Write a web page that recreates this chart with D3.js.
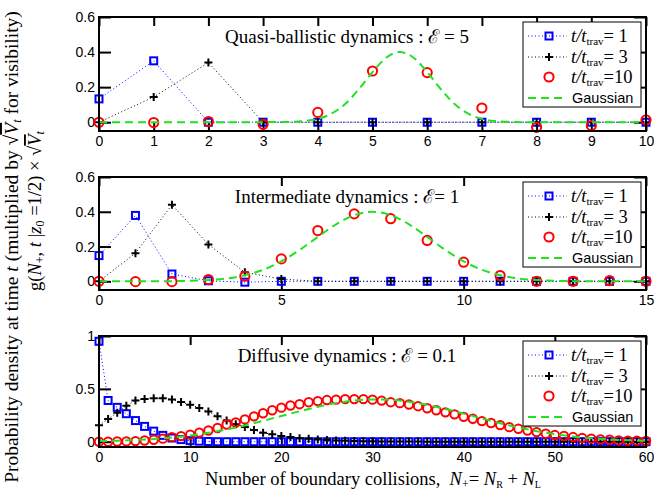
<!DOCTYPE html>
<html><head><meta charset="utf-8">
<script src="https://cdn.jsdelivr.net/npm/d3@7"></script>
<style>body{margin:0;background:#fff}svg{display:block}</style>
</head><body>
<svg id="c" width="654" height="491"></svg>
<script>
// ---------- DATA ----------
// Panel 1 : Quasi-ballistic, E = 5
const p1N = [0,1,2,3,4,5,6,7,8,9,10];
const p1T1 = [0.133,0.35,0.0,0.0,0.0,0.0,0.0,0.0,0.0,0.0,0.0];
const p1T3 = [0.0,0.144,0.34,0.0,0.0,0.0,0.0,0.0,0.0,0.0,0.0];
const p1T10 = [0.0,-0.002,0.004,-0.012,0.056,0.292,0.283,0.081,-0.029,-0.019,0.013];
const p1GaussX = [0,1,2,3,3.5,3.75,4,4.25,4.5,4.75,5,5.25,5.5,5.75,6,6.25,6.5,6.75,7,7.25,7.5,8,9,10];
const p1GaussY = [0,0,0,0.0005,0.002,0.0065,0.019,0.049,0.104,0.188,0.286,0.368,0.4,0.368,0.286,0.188,0.104,0.049,0.019,0.0065,0.002,0,0,0];

// Panel 2 : Intermediate, E = 1
const p2N = [0,1,2,3,4,5,6,7,8,9,10,11,12,13,14,15];
const p2T1 = [0.148,0.379,0.042,0.003,-0.005,0,0,0,0,0,0,0,0,0,0,0];
const p2T3 = [0.0,0.162,0.44,0.212,0.052,0.013,0,0,0,0,0,0,0,0,0,0];
const p2T10 = [0.0,-0.002,-0.002,0.01,0.029,0.129,0.292,0.388,0.36,0.235,0.11,0.033,0.0,0.0,0.004,0.0];
const p2GaussX = [0,1,2,2.5,3,3.5,4,4.5,5,5.5,6,6.5,7,7.5,8,8.5,9,9.5,10,10.5,11,11.5,12,12.5,13,14,15];
const p2GaussY = [0,0.0001,0.001,0.003,0.007,0.016,0.035,0.066,0.115,0.18,0.255,0.328,0.38,0.4,0.38,0.328,0.255,0.18,0.115,0.066,0.035,0.016,0.007,0.003,0.001,0,0];

// Panel 3 : Diffusive, E = 0.1
const p3N = d3.range(0, 61);
const p3T1 = [0.95,0.39,0.325,0.265,0.20,0.145,0.10,0.06,0.035,0.02,0.01,0.005,0.002,0,0,0,0,0,0,0,0,0,0,0,0,0,0,0,0,0,0,0,0,0,0,0,0,0,0,0,0,0,0,0,0,0,0,0,0,0,0,0,0,0,0,0,0,0,0,0,0];
const p3T3 = [0.155,0.215,0.275,0.34,0.39,0.405,0.41,0.41,0.40,0.375,0.35,0.32,0.285,0.24,0.20,0.165,0.14,0.11,0.085,0.07,0.055,0.045,0.032,0.028,0.022,0.016,0.012,0.009,0.007,0.005,0.004,0.003,0.002,0.002,0.001,0.001,0,0,0,0,0,0,0,0,0,0,0,0,0,0,0,0,0,0,0,0,0,0,0,0,0];
const p3T10 = [0,0,0.002,0.003,0.006,0.011,0.019,0.029,0.043,0.053,0.067,0.086,0.106,0.13,0.163,0.182,0.211,0.24,0.269,0.298,0.322,0.343,0.355,0.374,0.384,0.394,0.398,0.403,0.403,0.403,0.398,0.389,0.374,0.365,0.352,0.336,0.317,0.298,0.278,0.259,0.235,0.217,0.195,0.177,0.157,0.138,0.123,0.106,0.091,0.076,0.063,0.054,0.044,0.035,0.029,0.022,0.019,0.012,0.01,0.01,0.007];
const p3GaussX = [0,2,4,6,8,10,12,14,16,18,20,22,24,26,28,30,32,34,36,38,40,42,44,46,48,50,52,54,56,58,60];
const p3GaussY = [0.006,0.010,0.017,0.026,0.040,0.059,0.085,0.116,0.154,0.197,0.243,0.288,0.330,0.365,0.389,0.400,0.396,0.378,0.349,0.310,0.266,0.220,0.175,0.135,0.100,0.071,0.049,0.033,0.021,0.013,0.008];

const titles = ["Quasi-ballistic dynamics : \u2130 = 5", "Intermediate dynamics : \u2130= 1", "Diffusive dynamics : \u2130 = 0.1"];
const legendValues = ["= 1", "= 3", "=10"];
const xTicks1 = [0,1,2,3,4,5,6,7,8,9,10];
const xTicks2 = [0,5,10,15];
const xTicks3 = [0,10,20,30,40,50,60];
const yTicks12 = [0,0.2,0.4,0.6];
const yTicks3 = [0,0.5,1];

// ---------- DRAW ----------
const svg = d3.select("#c");
const SERIF = "'Liberation Serif','Times New Roman',serif";
const SANS = "'Liberation Sans',Arial,sans-serif";
const BLUE = "#0000ff", RED = "#ff0000", GREEN = "#22e022";
const L = 99, R = 646;

const panels = [
  {n:p1N, t1:p1T1, t3:p1T3, t10:p1T10, gx:p1GaussX, gy:p1GaussY, xd:[0,10], yd:[-0.05,0.6], top:17, bottom:131, xt:xTicks1, yt:yTicks12, title:titles[0], r:4.6},
  {n:p2N, t1:p2T1, t3:p2T3, t10:p2T10, gx:p2GaussX, gy:p2GaussY, xd:[0,15], yd:[-0.05,0.6], top:177, bottom:290, xt:xTicks2, yt:yTicks12, title:titles[1], r:4.6},
  {n:p3N, t1:p3T1, t3:p3T3, t10:p3T10, gx:p3GaussX, gy:p3GaussY, xd:[0,60], yd:[-0.05,1], top:336, bottom:447, xt:xTicks3, yt:yTicks3, title:titles[2], r:4.2}
];

function squareMark(g, cx, cy){
  g.append("rect").attr("x",cx-3.5).attr("y",cy-3.5).attr("width",7).attr("height",7)
   .attr("fill","none").attr("stroke",BLUE).attr("stroke-width",2);
}
function plusMark(g, cx, cy){
  g.append("path").attr("d",`M${cx-4},${cy}H${cx+4}M${cx},${cy-4}V${cy+4}`)
   .attr("stroke","#000").attr("stroke-width",2).attr("fill","none");
}
function circleMark(g, cx, cy, r){
  g.append("circle").attr("cx",cx).attr("cy",cy).attr("r",r)
   .attr("fill","none").attr("stroke",RED).attr("stroke-width",2);
}

panels.forEach(p => {
  const x = d3.scaleLinear().domain(p.xd).range([L,R]);
  const y = d3.scaleLinear().domain(p.yd).range([p.bottom,p.top]);
  const g = svg.append("g");
  const fmt = d => String(d);

  const ab = g.append("g").attr("transform",`translate(0,${p.bottom})`)
    .call(d3.axisBottom(x).tickValues(p.xt).tickSizeInner(-9).tickSizeOuter(0).tickPadding(5).tickFormat(fmt));
  const at = g.append("g").attr("transform",`translate(0,${p.top})`)
    .call(d3.axisTop(x).tickValues(p.xt).tickSizeInner(-9).tickSizeOuter(0).tickFormat(""));
  const al = g.append("g").attr("transform",`translate(${L},0)`)
    .call(d3.axisLeft(y).tickValues(p.yt).tickSizeInner(-12).tickSizeOuter(0).tickPadding(4).tickFormat(fmt));
  const ar = g.append("g").attr("transform",`translate(${R},0)`)
    .call(d3.axisRight(y).tickValues(p.yt).tickSizeInner(-12).tickSizeOuter(0).tickFormat(""));
  [ab,at,al,ar].forEach(a => {
    a.select(".domain").remove();
    a.selectAll("line").attr("stroke","#000").attr("stroke-width",2);
    a.selectAll("text").attr("font-family",SANS).attr("font-size",14).attr("fill","#000");
  });

  g.append("text").attr("x",347).attr("y",p.top+26).attr("text-anchor","middle")
    .attr("font-family",SERIF).attr("font-size",19).text(p.title);

  const line = d3.line().x((d,i)=>x(p.n[i])).y(d=>y(d));
  g.append("path").datum(p.t1).attr("d",line).attr("fill","none").attr("stroke",BLUE)
    .attr("stroke-width",1).attr("stroke-dasharray","1,2.5");
  p.t1.forEach((v,i)=>squareMark(g,x(p.n[i]),y(v)));
  g.append("path").datum(p.t3).attr("d",line).attr("fill","none").attr("stroke","#000")
    .attr("stroke-width",1).attr("stroke-dasharray","1,2.5");
  p.t3.forEach((v,i)=>plusMark(g,x(p.n[i]),y(v)));
  p.t10.forEach((v,i)=>circleMark(g,x(p.n[i]),y(v),p.r));
  const gl = d3.line().x((d,i)=>x(p.gx[i])).y(d=>y(d)).curve(d3.curveMonotoneX);
  g.append("path").datum(p.gy).attr("d",gl).attr("fill","none").attr("stroke",GREEN)
    .attr("stroke-width",2).attr("stroke-dasharray","8,5");

  g.append("rect").attr("x",L).attr("y",p.top).attr("width",R-L).attr("height",p.bottom-p.top)
    .attr("fill","none").attr("stroke","#000").attr("stroke-width",2);

  // legend
  const lg = g.append("g").attr("transform",`translate(523,${p.top+5})`);
  lg.append("rect").attr("x",0).attr("y",0).attr("width",118).attr("height",85)
    .attr("fill","#fff").attr("stroke","#000").attr("stroke-width",1);
  const rows = [14,35,55,76];
  lg.append("line").attr("x1",5).attr("x2",44).attr("y1",rows[0]).attr("y2",rows[0])
    .attr("stroke",BLUE).attr("stroke-width",1).attr("stroke-dasharray","1,2.5");
  squareMark(lg,26,rows[0]);
  lg.append("line").attr("x1",5).attr("x2",44).attr("y1",rows[1]).attr("y2",rows[1])
    .attr("stroke","#000").attr("stroke-width",1).attr("stroke-dasharray","1,2.5");
  plusMark(lg,26,rows[1]);
  circleMark(lg,26,rows[2],4.6);
  lg.append("line").attr("x1",5).attr("x2",44).attr("y1",rows[3]).attr("y2",rows[3])
    .attr("stroke",GREEN).attr("stroke-width",2).attr("stroke-dasharray","8,5");
  legendValues.forEach((v,k)=>{
    const t = lg.append("text").attr("x",48).attr("y",rows[k]+6)
      .attr("font-family",SERIF).attr("font-size",18.5);
    t.append("tspan").attr("font-style","italic").text("t/t");
    t.append("tspan").attr("font-size",11).attr("dy",3).text("trav");
    t.append("tspan").attr("dy",-3).text(v);
  });
  lg.append("text").attr("x",49).attr("y",rows[3]+5).attr("font-family",SANS)
    .attr("font-size",14.5).text("Gaussian");
});

// x-axis label
const xl = svg.append("text").attr("x",373).attr("y",485).attr("text-anchor","middle")
  .attr("font-family",SERIF).attr("font-size",18.5);
xl.append("tspan").text("Number of boundary collisions,\u00a0\u00a0");
xl.append("tspan").attr("font-style","italic").text("N");
xl.append("tspan").attr("font-size",12).attr("dy",3).text("+");
xl.append("tspan").attr("dy",-3).text("= ");
xl.append("tspan").attr("font-style","italic").text("N");
xl.append("tspan").attr("font-size",10).attr("dy",3).text("R");
xl.append("tspan").attr("dy",-3).text(" + ");
xl.append("tspan").attr("font-style","italic").text("N");
xl.append("tspan").attr("font-size",10).attr("dy",3).text("L");

// y-axis label line 1
const y1 = svg.append("text").attr("transform","translate(18,247) rotate(-90)")
  .attr("text-anchor","middle").attr("font-family",SERIF).attr("font-size",19.5);
y1.append("tspan").text("Probability density at time ");
y1.append("tspan").attr("font-style","italic").text("t");
y1.append("tspan").text(" (multiplied by \u221a");
y1.append("tspan").attr("font-style","italic").attr("text-decoration","overline").text("V");
y1.append("tspan").attr("font-style","italic").attr("font-size",12).attr("dy",3).text("t");
y1.append("tspan").attr("dy",-3).text("  for visibility)");

// y-axis label line 2
const y2 = svg.append("text").attr("transform","translate(41,211) rotate(-90)")
  .attr("text-anchor","middle").attr("font-family",SERIF).attr("font-size",18.5);
y2.append("tspan").text("g(");
y2.append("tspan").attr("font-style","italic").text("N");
y2.append("tspan").attr("font-size",12).attr("dy",3).text("+");
y2.append("tspan").attr("dy",-3).text(", ");
y2.append("tspan").attr("font-style","italic").text("t");
y2.append("tspan").text(" |");
y2.append("tspan").attr("font-style","italic").text("z");
y2.append("tspan").attr("font-size",12).attr("dy",3).text("0");
y2.append("tspan").attr("dy",-3).text(" =1/2) \u00d7 \u221a");
y2.append("tspan").attr("font-style","italic").attr("text-decoration","overline").text("V");
y2.append("tspan").attr("font-style","italic").attr("font-size",12).attr("dy",3).text("t");
</script>
</body></html>
